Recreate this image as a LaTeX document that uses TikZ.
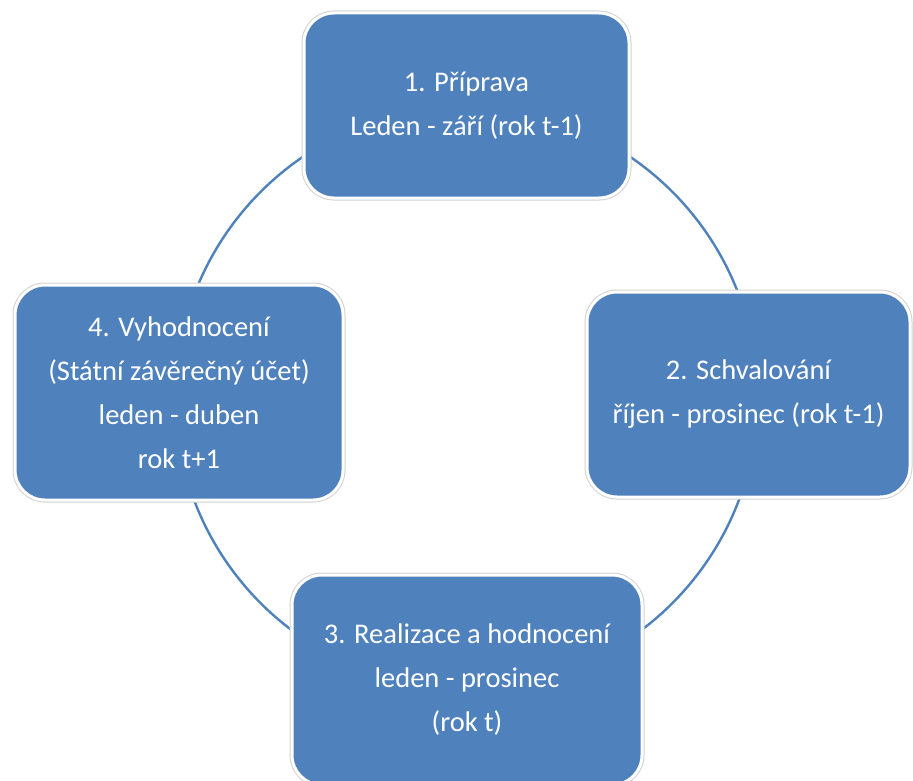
\documentclass[tikz,border=0pt]{standalone}
\usepackage{fontspec}
\setmainfont{Carlito}
\usetikzlibrary{positioning}
\definecolor{phaseblue}{HTML}{4F81BD}
\tikzstyle{phase} = [rectangle, fill=phaseblue, draw=white, line width=3pt, rounded corners=30pt, text=white, align=center, font=\fontsize{28.5}{44}\selectfont, preaction={draw=black!18, line width=5pt}]

\begin{document}
\begin{tikzpicture}[x=1pt, y=-1pt]
        \useasboundingbox (0,0) rectangle (913,781);

        % Cycle
        \coordinate (centre) at (466.5,397.5);
        \draw[phaseblue, line width=2.4pt] (centre) circle (291pt);

        % Phases
        \node[phase, minimum width=325pt, minimum height=185pt] (priprava) at (466.5,105.5) {1. Příprava\\Leden - září (rok t-1)};
        \node[phase, minimum width=323pt, minimum height=205pt] (schvalovani) at (748.5,394.5) {2. Schvalování\\říjen - prosinec (rok t-1)};
        \node[phase, minimum width=350pt, minimum height=210pt] (realizace) at (467,680) {3. Realizace a hodnocení\\leden - prosinec\\(rok t)};
        \node[phase, minimum width=328pt, minimum height=215pt] (vyhodnoceni) at (179,392.5) {4. Vyhodnocení\\(Státní závěrečný účet)\\leden - duben\\rok t+1};

    \end{tikzpicture}
\end{document}
